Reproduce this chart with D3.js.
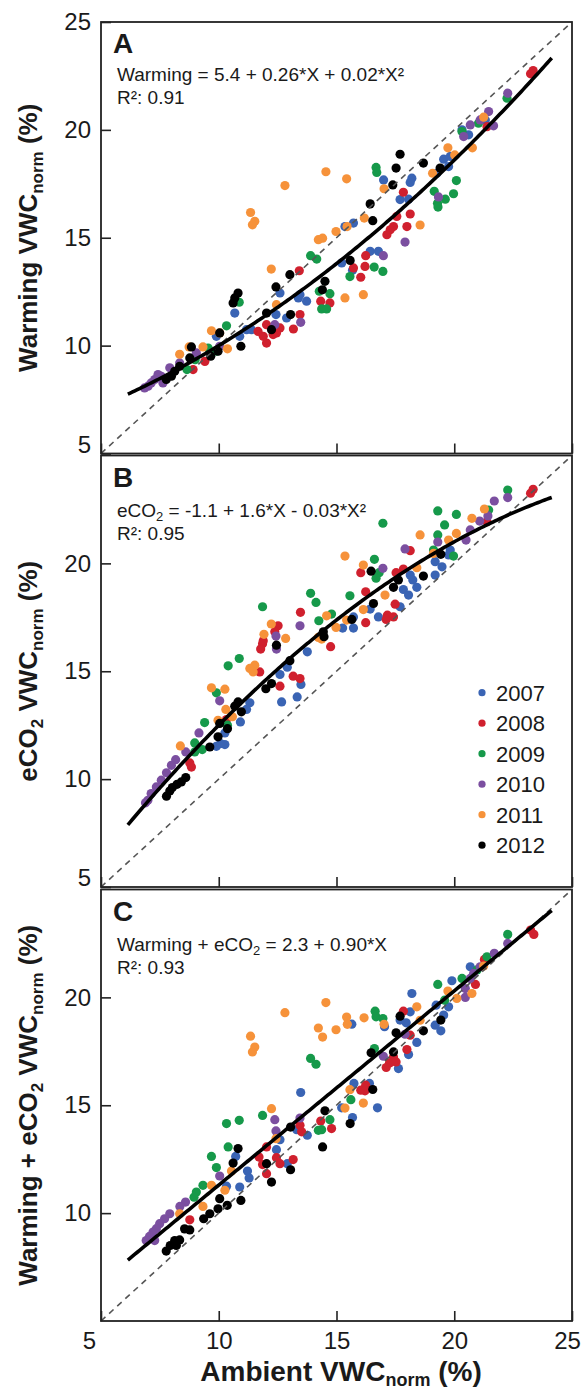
<!DOCTYPE html>
<html>
<head>
<meta charset="utf-8">
<script src="https://cdn.jsdelivr.net/npm/d3@7"></script>
<style>
  body { margin: 0; background: #fff; }
  svg text { font-family: "Liberation Sans", Arial, sans-serif; fill: #1a1a1a; }
</style>
</head>
<body>
<div id="chart"></div>
<script>
// years and colours
const years = ['2007', '2008', '2009', '2010', '2011', '2012'];
const yearColors = ['#3a64b4', '#d0202e', '#16994a', '#7b4fa0', '#f6923a', '#000000'];

// Panel A: ambient vs warming VWCnorm
const warm2007 = [[17.0,17.68],[18.2,17.76],[18.13,17.56],[17.7,16.77],[18.06,16.79],[19.55,18.64],[19.83,18.77],[19.76,18.3],[19.26,17.99],[15.72,15.68],[15.36,15.52],[16.43,14.37],[16.78,14.37],[15.22,13.83],[15.68,13.49],[12.6,12.44],[13.38,12.21],[13.73,12.06],[13.45,12.36],[12.43,11.44],[12.88,11.28],[10.68,11.51],[11.18,10.74],[11.39,10.74],[10.89,10.43],[9.9,10.43],[20.33,20.0],[20.61,19.77],[21.32,20.46]];
const warm2008 = [[23.35,22.75],[23.24,22.6],[17.84,17.11],[18.13,16.1],[17.99,15.52],[17.56,15.99],[17.42,15.52],[17.28,15.37],[17.14,15.14],[13.42,13.47],[16.24,14.17],[16.21,13.67],[16.03,13.17],[15.72,13.6],[14.33,12.06],[14.72,11.98],[13.45,11.44],[13.17,10.77],[12.6,10.82],[12.45,10.59],[12.03,10.97],[11.67,10.66],[11.89,10.43],[12.03,10.12],[12.31,10.51],[21.39,20.15],[9.41,9.27],[8.91,8.89]];
const warm2009 = [[16.68,18.26],[16.71,18.03],[20.09,17.65],[19.97,17.04],[19.62,16.79],[19.15,17.15],[19.29,16.6],[19.31,16.42],[13.9,14.17],[14.16,14.01],[15.57,13.2],[16.6,13.64],[16.97,13.44],[14.27,12.52],[14.72,12.41],[14.37,11.7],[14.58,11.7],[10.87,12.01],[10.33,10.92],[9.9,9.74],[9.55,9.89],[8.65,8.89],[20.33,19.92],[21.03,20.31],[22.24,21.47],[9.0,9.35]];
const warm2010 = [[22.27,21.7],[21.46,20.85],[21.1,20.46],[21.67,20.19],[20.68,20.23],[20.4,19.69],[19.33,16.89],[17.91,14.8],[16.99,14.17],[12.38,10.97],[13.48,11.08],[10.04,9.97],[9.05,9.66],[8.34,9.2],[7.92,8.97],[7.56,8.58],[7.28,8.43],[7.0,8.12],[7.13,8.27],[7.63,8.27],[7.42,8.66],[6.85,8.04]];
const warm2011 = [[12.81,17.42],[14.55,18.06],[15.43,17.73],[11.35,16.17],[11.53,15.76],[11.43,15.6],[17.02,17.27],[19.08,17.99],[19.73,19.17],[20.77,19.17],[21.25,20.59],[18.55,15.59],[16.18,15.91],[15.45,15.52],[14.98,15.29],[14.23,14.91],[14.41,14.98],[16.14,12.36],[15.36,12.21],[12.23,13.55],[12.45,11.9],[9.69,10.69],[10.04,10.59],[8.34,9.6],[8.74,9.94],[9.33,9.94],[10.37,9.85],[20.02,18.84]];
const warm2012 = [[17.7,18.87],[17.53,18.23],[18.69,18.46],[17.39,17.45],[19.4,18.23],[16.43,16.57],[16.54,15.79],[15.58,13.95],[14.51,12.98],[14.4,12.59],[13.02,13.29],[12.43,12.72],[10.82,12.44],[10.68,12.21],[10.61,11.98],[12.03,11.51],[13.05,11.44],[12.24,10.74],[10.04,10.59],[10.94,9.97],[9.97,9.74],[9.66,9.51],[8.84,9.94],[8.77,9.43],[8.34,9.04],[7.99,8.58],[8.13,8.81],[7.77,8.43]];

// Panel B: ambient vs eCO2 VWCnorm
const eco2007 = [[19.83,20.62],[19.76,20.39],[19.48,19.84],[19.19,19.46],[19.19,20.08],[18.13,19.46],[18.24,19.23],[17.84,18.79],[18.06,18.53],[18.41,18.89],[17.7,17.99],[16.78,17.52],[16.43,17.88],[15.72,17.0],[15.26,17.0],[15.72,17.52],[13.76,15.9],[12.91,15.19],[12.6,14.85],[12.67,13.58],[13.33,13.81],[13.49,14.39],[11.32,13.54],[11.18,13.23],[10.92,12.65],[10.26,12.14],[10.26,11.6],[9.9,11.52],[10.08,11.65]];
const eco2008 = [[23.35,23.43],[23.24,23.25],[21.39,21.93],[18.13,20.59],[17.84,19.74],[17.53,19.57],[16.03,19.57],[16.24,18.68],[17.49,18.11],[17.16,17.6],[17.11,17.4],[17.42,17.52],[16.24,17.25],[13.47,17.73],[12.52,17.11],[12.38,16.83],[11.89,16.41],[11.86,16.28],[11.78,16.03],[14.75,16.14],[11.74,14.97],[13.16,14.77],[13.45,14.66],[12.6,14.31],[8.77,10.75],[8.84,10.56],[10.33,12.76]];
const eco2009 = [[22.27,23.4],[19.3,22.43],[20.09,22.27],[16.97,21.86],[19.59,21.78],[19.3,21.32],[21.46,22.47],[19.97,20.34],[16.61,20.19],[16.81,19.57],[16.68,19.31],[13.9,18.61],[15.57,18.5],[14.13,18.19],[11.86,17.99],[14.79,17.65],[14.25,17.34],[10.87,15.59],[10.4,15.25],[9.9,14.0],[9.4,12.62],[10.37,12.5],[8.98,11.68],[8.98,11.26],[9.3,11.37],[19.12,20.62]];
const eco2010 = [[22.27,23.05],[21.7,22.89],[21.43,22.2],[21.08,21.96],[20.68,21.55],[20.5,21.08],[17.91,20.67],[19.3,20.99],[16.97,19.77],[13.45,17.11],[12.43,16.63],[12.45,16.03],[10.04,13.63],[9.16,12.14],[8.6,11.26],[8.17,10.9],[7.99,10.64],[7.78,10.29],[7.56,9.95],[7.35,9.64],[7.13,9.33],[6.99,9.02],[6.89,8.9]];
const eco2011 = [[21.28,22.52],[20.75,22.09],[20.09,21.39],[19.76,21.08],[18.55,21.32],[15.36,20.34],[16.14,19.92],[18.41,19.8],[19.12,20.46],[17.06,18.53],[16.14,17.86],[14.58,17.57],[15.43,17.37],[14.98,17.03],[14.23,16.57],[14.37,16.49],[12.23,17.19],[11.92,16.71],[12.84,16.52],[11.53,15.28],[11.32,15.13],[11.46,14.97],[9.69,14.23],[10.26,14.17],[10.3,13.23],[10.58,12.89],[8.37,11.54],[9.97,12.73]];
const eco2012 = [[16.47,19.64],[16.57,18.14],[17.42,18.89],[17.63,19.23],[18.69,19.41],[19.43,20.42],[15.65,17.4],[14.44,16.83],[14.47,16.6],[13.02,15.49],[12.24,14.43],[12.0,14.19],[12.45,16.21],[10.82,13.58],[10.68,13.38],[10.96,13.12],[10.04,12.58],[10.37,12.34],[9.97,11.96],[9.62,11.49],[8.6,10.07],[8.41,9.87],[8.23,9.76],[8.03,9.61],[7.92,9.45],[7.78,9.21]];

// Panel C: ambient vs warming + eCO2 VWCnorm
const both2007 = [[18.2,20.18],[20.68,21.42],[19.9,20.77],[19.23,19.64],[19.55,19.18],[19.19,18.71],[19.43,18.45],[19.76,19.56],[18.13,19.33],[17.7,18.95],[17.96,18.82],[15.65,18.76],[17.04,18.64],[18.41,17.91],[18.06,17.35],[17.63,16.7],[15.74,16.01],[16.4,16.01],[16.74,14.88],[15.22,14.88],[15.68,14.43],[13.48,15.59],[13.31,13.87],[13.76,13.61],[12.45,12.94],[12.6,13.4],[12.91,12.29],[10.72,12.63],[11.22,11.95],[11.29,11.63],[10.89,11.21],[10.33,11.25]];
const both2008 = [[23.24,23.12],[23.38,22.92],[21.28,21.76],[20.9,20.6],[17.84,19.36],[18.13,18.25],[17.99,17.58],[17.42,17.24],[17.25,16.96],[17.11,16.75],[17.53,17.01],[16.24,15.93],[16.03,15.7],[16.21,15.67],[14.33,14.27],[14.79,13.92],[13.45,14.07],[13.52,13.77],[13.16,12.48],[12.45,12.57],[12.6,12.29],[11.71,12.6],[11.86,12.25],[12.03,11.83],[12.03,13.07],[8.77,9.69]];
const both2009 = [[22.27,22.92],[21.39,21.88],[20.33,20.88],[19.3,20.6],[19.59,19.87],[16.64,19.36],[16.68,19.1],[16.97,19.02],[13.9,17.17],[14.13,16.9],[11.86,14.53],[10.87,14.3],[10.33,14.15],[10.4,13.07],[9.69,12.63],[9.9,12.11],[9.33,11.29],[9.05,10.98],[8.95,10.74],[16.61,17.63],[15.61,15.26],[14.72,14.33],[14.37,13.87],[14.23,13.84],[20.97,21.27]];
const both2010 = [[22.27,22.5],[21.7,22.04],[21.1,21.42],[20.68,20.88],[20.47,20.41],[20.47,20.0],[20.82,21.11],[17.91,18.29],[16.99,17.27],[13.45,14.41],[12.38,14.33],[12.43,13.81],[10.04,11.72],[8.59,10.51],[8.35,10.31],[7.92,9.97],[7.7,9.74],[7.49,9.51],[7.35,9.28],[7.21,9.12],[7.06,8.92],[6.92,8.73],[7.28,8.73]];
const both2011 = [[14.55,19.76],[12.81,19.29],[11.35,18.2],[11.53,17.7],[11.43,17.47],[15.43,19.09],[15.46,18.75],[14.98,18.5],[14.23,18.58],[14.41,18.16],[16.17,19.05],[18.41,19.56],[19.73,20.29],[20.11,19.95],[20.75,20.18],[21.25,21.45],[18.55,18.94],[17.02,18.75],[15.57,15.72],[16.14,15.1],[15.36,14.87],[12.24,14.84],[12.43,13.45],[10.54,11.95],[10.26,11.06],[9.69,11.29],[9.33,10.31],[8.34,9.97]];
const both2012 = [[17.7,19.13],[17.53,18.36],[18.69,18.45],[19.43,18.95],[17.42,17.47],[16.47,17.43],[16.54,15.73],[14.51,14.74],[15.58,14.15],[14.41,13.07],[13.05,13.99],[12.03,12.29],[13.05,12.01],[12.24,11.44],[10.82,12.99],[10.61,12.32],[10.94,10.59],[10.36,10.36],[10.04,10.67],[9.97,10.2],[9.62,9.97],[9.36,9.74],[8.77,9.22],[8.55,9.27],[8.34,8.76],[8.13,8.73],[7.94,8.5],[7.77,8.24],[8.2,8.5]];

// fitted curves: [intercept, X, X^2]
const fitWarm = [5.4, 0.26, 0.02];
const fitEco = [-1.0, 1.6, -0.025];
const fitBoth = [2.3, 0.9, 0];
const fitRange = [6.14, 24.23];

const xTicks = [5, 10, 15, 20, 25];

const panels = [
  { letter: 'A', series: [warm2007, warm2008, warm2009, warm2010, warm2011, warm2012], fit: fitWarm,
    eq: [{t: 'Warming = 5.4 + 0.26*X + 0.02*X²'}], r2: 'R²: 0.91',
    yTicks: [5, 10, 15, 20, 25],
    title: [{t: 'Warming VWC'}, {t: 'norm', sub: true}, {t: ' (%)'}] },
  { letter: 'B', series: [eco2007, eco2008, eco2009, eco2010, eco2011, eco2012], fit: fitEco,
    eq: [{t: 'eCO'}, {t: '2', sub: true}, {t: ' = -1.1 + 1.6*X - 0.03*X²'}], r2: 'R²: 0.95',
    yTicks: [5, 10, 15, 20],
    title: [{t: 'eCO'}, {t: '2', sub: true}, {t: ' VWC'}, {t: 'norm', sub: true}, {t: ' (%)'}] },
  { letter: 'C', series: [both2007, both2008, both2009, both2010, both2011, both2012], fit: fitBoth,
    eq: [{t: 'Warming + eCO'}, {t: '2', sub: true}, {t: ' = 2.3 + 0.90*X'}], r2: 'R²: 0.93',
    yTicks: [10, 15, 20],
    title: [{t: 'Warming + eCO'}, {t: '2', sub: true}, {t: ' VWC'}, {t: 'norm', sub: true}, {t: ' (%)'}] }
];

const width = 587, height = 1389;
const left = 101, right = 572;
const panelTops = [22, 455.5, 889.5];
const panelH = 431.5;
const eqOffsets = [[59, 82], [61, 84], [61, 84]];

const svg = d3.select('#chart').append('svg')
    .attr('width', width)
    .attr('height', height);

const x = d3.scaleLinear().domain([5, 25]).range([left, right]);

// helper for text with subscripts
function addRuns(textSel, runs, mainSize, subSize, shift) {
  let wasSub = false;
  runs.forEach(r => {
    if (r.sub) {
      textSel.append('tspan').attr('font-size', subSize).attr('dy', shift).text(r.t);
    } else {
      const ts = textSel.append('tspan').attr('font-size', mainSize).text(r.t);
      if (wasSub) ts.attr('dy', -shift);
    }
    wasSub = !!r.sub;
  });
}

panels.forEach((p, i) => {
  const top = panelTops[i];
  const y = d3.scaleLinear().domain([5, 25]).range([top + panelH, top]);
  const g = svg.append('g');

  // points
  p.series.forEach((pts, k) => {
    g.append('g').selectAll('circle')
      .data(pts)
      .join('circle')
        .attr('cx', d => x(d[0]))
        .attr('cy', d => y(d[1]))
        .attr('r', 4.6)
        .attr('fill', yearColors[k]);
  });

  // 1:1 line
  g.append('line')
    .attr('x1', x(5)).attr('y1', y(5))
    .attr('x2', x(25)).attr('y2', y(25))
    .attr('stroke', '#555')
    .attr('stroke-width', 1.6)
    .attr('stroke-dasharray', '6,5');

  // regression curve
  const xs = d3.range(fitRange[0], fitRange[1] + 0.001, 0.1);
  const line = d3.line()
    .x(d => x(d))
    .y(d => y(p.fit[0] + p.fit[1] * d + p.fit[2] * d * d));
  g.append('path')
    .datum(xs)
    .attr('d', line)
    .attr('fill', 'none')
    .attr('stroke', '#000')
    .attr('stroke-width', 3.6);

  // axes with inward ticks
  const yAxis = d3.axisLeft(y).tickValues(p.yTicks).tickSizeInner(-10).tickSizeOuter(0).tickPadding(10);
  const yg = g.append('g').attr('transform', `translate(${left},0)`).call(yAxis);
  yg.select('.domain').remove();
  yg.selectAll('line').attr('stroke', '#222').attr('stroke-width', 1.6);
  yg.selectAll('text').attr('font-size', 24).attr('fill', '#1a1a1a')
    .style('font-family', '"Liberation Sans", Arial, sans-serif');
  yg.selectAll('.tick').filter(d => d === 5).select('text').attr('y', -9);

  const isLast = i === panels.length - 1;
  const xAxis = d3.axisBottom(x).tickValues(xTicks).tickSizeInner(-10).tickSizeOuter(0).tickPadding(11);
  if (!isLast) xAxis.tickFormat('');
  const xg = g.append('g').attr('transform', `translate(0,${top + panelH})`).call(xAxis);
  xg.select('.domain').remove();
  xg.selectAll('line').attr('stroke', '#222').attr('stroke-width', 1.6);
  xg.selectAll('text').attr('font-size', 24).attr('fill', '#1a1a1a')
    .style('font-family', '"Liberation Sans", Arial, sans-serif');
  xg.selectAll('.tick').filter(d => d === 5).select('text').attr('dx', -12);
  xg.selectAll('.tick').filter(d => d === 25).select('text').attr('dx', -5);

  // frame
  g.append('rect')
    .attr('x', left).attr('y', top)
    .attr('width', right - left).attr('height', panelH)
    .attr('fill', 'none')
    .attr('stroke', '#222')
    .attr('stroke-width', 1.8);

  // panel letter
  g.append('text')
    .attr('x', 113).attr('y', top + 31)
    .attr('font-size', 28).attr('font-weight', 'bold')
    .text(p.letter);

  // equation and R2
  const eq = g.append('text').attr('x', 117).attr('y', top + eqOffsets[i][0]);
  addRuns(eq, p.eq, 19, 13, 4);
  g.append('text')
    .attr('x', 117).attr('y', top + eqOffsets[i][1])
    .attr('font-size', 19)
    .text(p.r2);

  // y title
  const yt = g.append('text')
    .attr('transform', `translate(37,${top + panelH / 2}) rotate(-90)`)
    .attr('text-anchor', 'middle')
    .attr('font-weight', 'bold');
  addRuns(yt, p.title, 26, 17, 6);
});

// legend in panel B
const legend = svg.append('g');
years.forEach((yr, k) => {
  const cy = 692.7 + k * 30.5;
  legend.append('circle').attr('cx', 482).attr('cy', cy).attr('r', 3.6).attr('fill', yearColors[k]);
  legend.append('text')
    .attr('x', 496).attr('y', cy).attr('dy', '0.36em')
    .attr('font-size', 22)
    .text(yr);
});

// x title
const xt = svg.append('text')
  .attr('x', 341).attr('y', 1381)
  .attr('text-anchor', 'middle')
  .attr('font-weight', 'bold');
addRuns(xt, [{t: 'Ambient VWC'}, {t: 'norm', sub: true}, {t: '  (%)'}], 28, 18, 5);
</script>
</body>
</html>
